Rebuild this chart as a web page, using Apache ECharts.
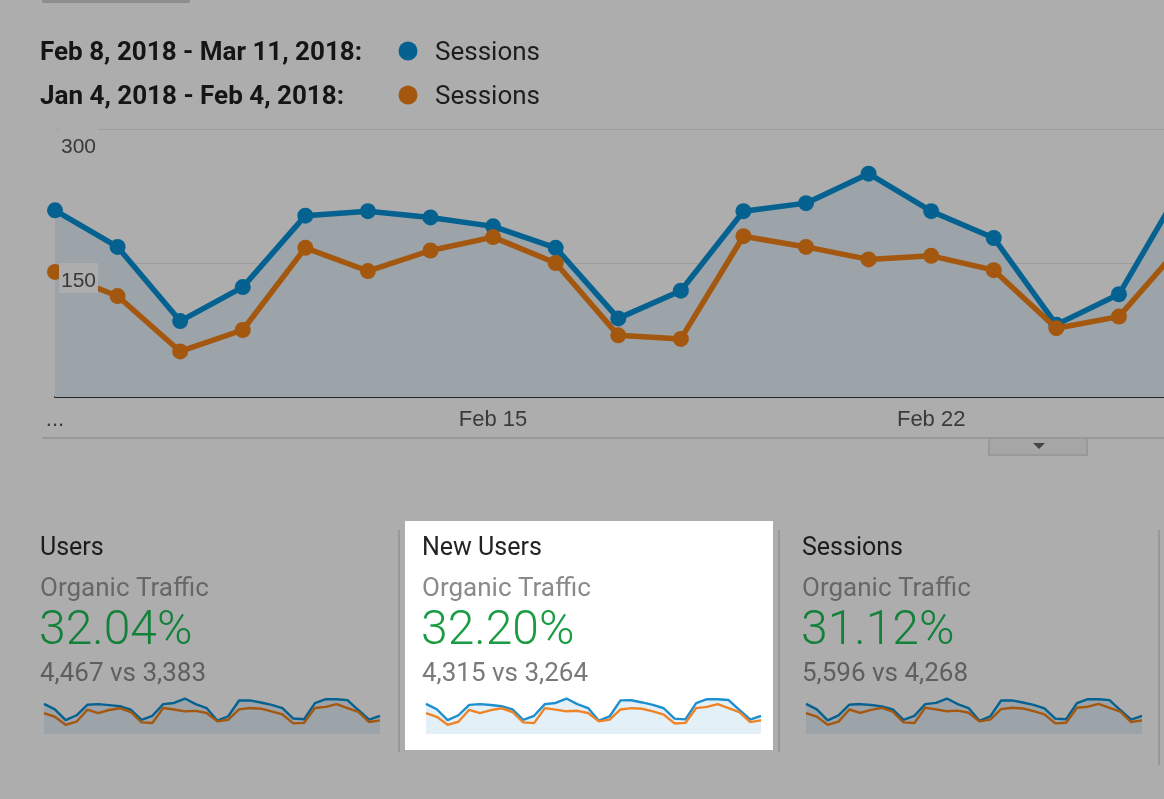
<!DOCTYPE html>
<html><head><meta charset="utf-8">
<script src="https://cdn.jsdelivr.net/npm/echarts@6/dist/echarts.min.js"></script>
<style>html,body{margin:0;padding:0;background:#adadad;overflow:hidden}#c{width:1164px;height:799px;}</style>
</head><body><div id="c"></div>
<script>
// ---- data ----
const dates = ['Feb 8','Feb 9','Feb 10','Feb 11','Feb 12','Feb 13','Feb 14','Feb 15','Feb 16','Feb 17','Feb 18','Feb 19','Feb 20','Feb 21','Feb 22','Feb 23','Feb 24','Feb 25','Feb 26','Feb 27','Feb 28','Mar 1','Mar 2','Mar 3','Mar 4','Mar 5','Mar 6','Mar 7','Mar 8','Mar 9','Mar 10','Mar 11'];
const sessionsCur  = [209,168,85,123,203,208,201,191,167,88,119,208,217,250,208,178,81,115,235,236,220,202,176,98,93,215,245,245,238,163,90,119];
const sessionsPrev = [140,113,51,75,167,141,164,179,150,69,65,180,168,154,158,142,77,90,170,180,175,155,130,62,66,180,188,210,180,150,72,85];
const usersCur     = [167,134,68,98,162,166,160,153,133,70,95,166,173,200,166,142,65,92,188,189,176,161,141,78,74,172,196,196,190,130,72,95];
const usersPrev    = [111,89,40,59,132,111,130,141,118,55,51,142,133,122,125,112,61,71,134,142,138,122,103,49,52,142,149,166,142,118,57,67];
const newUsersCur  = [162,130,66,95,156,160,155,148,129,68,92,160,167,193,160,137,63,89,182,183,170,156,136,75,71,166,189,189,184,126,70,92];
const newUsersPrev = [107,86,39,57,127,107,125,136,114,53,49,137,128,118,121,108,59,69,129,137,133,118,99,47,50,137,144,160,137,114,55,65];
const yTicks = [0,150,300];
const visibleDays = 17.72; // portion of the date axis visible in the cropped screenshot
const rangeLabels = ['Feb 8, 2018 - Mar 11, 2018:','Jan 4, 2018 - Feb 4, 2018:'];
const metricName = 'Sessions';
const cardTitles = ['Users','New Users','Sessions'];
const cardSub = 'Organic Traffic';
const cardPcts = ['32.04%','32.20%','31.12%'];
const cardCompare = ['4,467 vs 3,383','4,315 vs 3,264','5,596 vs 4,268'];

// ---- styles ----
const C = {
  blue:'#046190', orange:'#a3570f', area:'#9ca4a9',
  wBlue:'#1d8fcf', wOrange:'#ef8325', wArea:'#e4f0f8'
};
const chart = echarts.init(document.getElementById('c'), null, {renderer:'canvas'});

const cardX = [40, 422, 802];
const sparkLeft = [44, 426, 806];
const sparkW = [336, 335, 336];
const sparkSets = [[usersCur, usersPrev],[newUsersCur, newUsersPrev],[sessionsCur, sessionsPrev]];

const grids = [{left:55, top:129, right:0, height:268}];
const xAxes = [{
  type:'value', gridIndex:0, min:0, max:visibleDays, interval:7,
  axisLine:{lineStyle:{color:'#262626', width:2}}, axisTick:{show:false}, splitLine:{show:false},
  axisLabel:{showMaxLabel:false, formatter:(v)=>{ if (v%7!==0) return ''; return v===0?'...':dates[v]; },
    color:'#3a3a3a', fontFamily:'Arial, Liberation Sans', fontSize:22, margin:12}
}];
const yAxes = [
  {type:'value', gridIndex:0, position:'left', min:yTicks[0], max:yTicks[2], interval:yTicks[1]-yTicks[0],
   axisLabel:{show:false}, axisLine:{show:false}, axisTick:{show:false},
   splitLine:{lineStyle:{color:'rgba(0,0,0,0.09)', width:1}}},
  {type:'value', gridIndex:0, position:'left', min:yTicks[0], max:yTicks[2], interval:yTicks[1]-yTicks[0], z:10,
   axisLine:{show:false}, axisTick:{show:false}, splitLine:{show:false},
   axisLabel:{inside:true, showMinLabel:false, verticalAlign:'top', margin:4,
     color:'#3a3a3a', fontFamily:'Arial, Liberation Sans', fontSize:21, backgroundColor:'#adadad', padding:[8,2,1,2]}}
];
const series = [
  {type:'line', name:'Sessions (Feb 8 - Mar 11)', xAxisIndex:0, yAxisIndex:0, data:sessionsCur.map((v,i)=>[i,v]),
   symbol:'circle', symbolSize:16, lineStyle:{color:C.blue, width:5.5}, itemStyle:{color:C.blue},
   areaStyle:{color:C.area, opacity:1}, clip:true, z:3},
  {type:'line', name:'Sessions (Jan 4 - Feb 4)', xAxisIndex:0, yAxisIndex:0, data:sessionsPrev.map((v,i)=>[i,v]),
   symbol:'circle', symbolSize:16, lineStyle:{color:C.orange, width:5.5}, itemStyle:{color:C.orange}, clip:true, z:4}
];
sparkSets.forEach((set, k) => {
  const gi = k + 1;
  const white = k === 1;
  grids.push({left:sparkLeft[k], top:698, width:sparkW[k], height:36});
  xAxes.push({type:'category', data:dates, boundaryGap:false, gridIndex:gi, show:false});
  yAxes.push({type:'value', gridIndex:gi, show:false,
    min:(v)=>v.min-(v.max-v.min)*0.35, max:(v)=>v.max+(v.max-v.min)*0.02});
  const ai = yAxes.length - 1;
  series.push({type:'line', xAxisIndex:gi, yAxisIndex:ai, data:set[0], symbol:'none',
    lineStyle:{color: white?C.wBlue:C.blue, width:2.4}, areaStyle:{color: white?C.wArea:C.area, opacity:1, origin:'start'}, z:3});
  series.push({type:'line', xAxisIndex:gi, yAxisIndex:ai, data:set[1], symbol:'none',
    lineStyle:{color: white?C.wOrange:C.orange, width:2.4}, z:4});
});

const g = [];
g.push({type:'rect', shape:{x:42,y:-6,width:148,height:9,r:2}, style:{fill:'#8d8d8d'}, z:-2});
rangeLabels.forEach((t,i)=>{
  const y = 53 + i*44;
  g.push({type:'text', x:40, y:y, style:{text:t, font:'bold 26px Roboto', fill:'#151515', textVerticalAlign:'middle'}});
  g.push({type:'circle', shape:{cx:408, cy:y-2, r:9.5}, style:{fill: i===0?C.blue:C.orange}});
  g.push({type:'text', x:435, y:y, style:{text:metricName, font:'26px Roboto', fill:'#1e1e1e', textVerticalAlign:'middle'}});
});
g.push({type:'line', shape:{x1:42,y1:438,x2:1164,y2:438}, style:{stroke:'#999999', lineWidth:2}});
g.push({type:'rect', shape:{x:989,y:438,width:98,height:17}, style:{fill:'#a6a6a6', stroke:'#999999', lineWidth:2}});
g.push({type:'polygon', shape:{points:[[1033,443],[1045,443],[1039,449]]}, style:{fill:'#454545'}});
g.push({type:'line', shape:{x1:399,y1:530,x2:399,y2:752}, style:{stroke:'#979797', lineWidth:2}});
g.push({type:'line', shape:{x1:779,y1:530,x2:779,y2:752}, style:{stroke:'#979797', lineWidth:2}});
g.push({type:'line', shape:{x1:1159,y1:530,x2:1159,y2:765}, style:{stroke:'#979797', lineWidth:2}});
g.push({type:'rect', shape:{x:405,y:521,width:368,height:229}, style:{fill:'#ffffff'}, z:-5});
cardTitles.forEach((t,k)=>{
  const white = k===1;
  const x = cardX[k];
  g.push({type:'text', x:x, y:549, style:{text:t, font:'25px Roboto', fill: white?'#222222':'#1c1c1c', textVerticalAlign:'middle'}});
  g.push({type:'text', x:x, y:589, style:{text:cardSub, font:'26px Roboto', fill: white?'#8a8a8a':'#676767', textVerticalAlign:'middle'}});
  g.push({type:'text', x:x-1, y:632, style:{text:cardPcts[k], font:'300 48px Roboto', fill: white?'#1b9c43':'#13813a', textVerticalAlign:'middle'}});
  g.push({type:'text', x:x, y:674, style:{text:cardCompare[k], font:'26px Roboto', fill: white?'#7a7a7a':'#5f5f5f', textVerticalAlign:'middle'}});
});

chart.setOption({
  backgroundColor:'#adadad',
  animation:false,
  grid:grids, xAxis:xAxes, yAxis:yAxes, series:series,
  graphic:{elements:g}
});
</script></body></html>
